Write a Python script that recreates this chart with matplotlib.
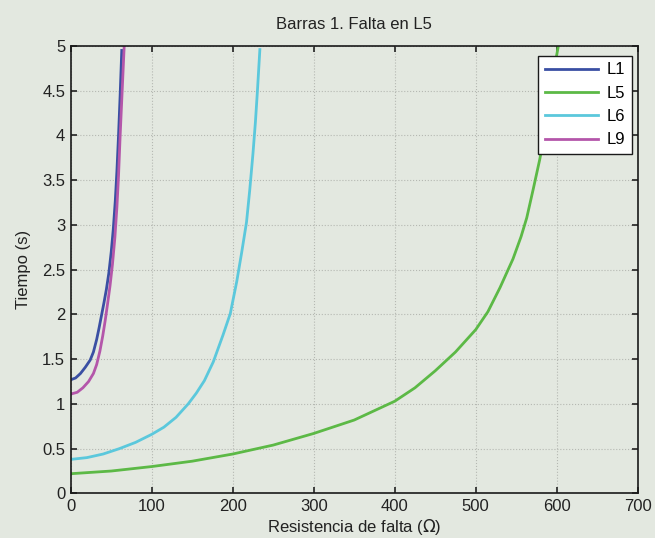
import matplotlib
matplotlib.use("Agg")
import matplotlib.pyplot as plt

# datos: resistencia de falta (Ohm) -> tiempo (s)
r_l1 = [0, 6, 12, 18, 24, 28, 32, 35, 38, 41, 44, 47, 50, 52.5, 55, 57, 59, 61, 63]
t_l1 = [1.27, 1.29, 1.34, 1.41, 1.49, 1.58, 1.72, 1.85, 1.99, 2.13, 2.28, 2.46, 2.7,
        2.95, 3.27, 3.6, 4.0, 4.45, 4.95]

r_l5 = [0, 50, 100, 150, 200, 250, 300, 350, 400, 425, 450, 475, 500, 515, 530, 546,
        556, 563, 571, 579, 587, 594, 599, 602]
t_l5 = [0.22, 0.25, 0.30, 0.36, 0.44, 0.54, 0.67, 0.82, 1.03, 1.18, 1.37, 1.58, 1.83,
        2.03, 2.3, 2.62, 2.87, 3.08, 3.4, 3.73, 4.12, 4.55, 4.85, 5.0]

r_l6 = [0, 20, 40, 60, 80, 100, 115, 130, 145, 155, 165, 176, 188, 197, 205, 211, 217,
        221, 225, 228, 230.5, 233.5]
t_l6 = [0.38, 0.40, 0.44, 0.50, 0.57, 0.66, 0.74, 0.85, 1.0, 1.12, 1.26, 1.47, 1.77,
        2.01, 2.37, 2.69, 3.03, 3.39, 3.8, 4.15, 4.5, 4.96]

r_l9 = [0, 8, 15, 22, 28, 32, 36, 39.5, 42.5, 45.5, 48.5, 51.5, 54.5, 57, 59, 61,
        63.5, 66]
t_l9 = [1.11, 1.13, 1.18, 1.25, 1.34, 1.44, 1.59, 1.76, 1.93, 2.12, 2.32, 2.56, 2.86,
        3.2, 3.55, 4.0, 4.5, 5.0]

nombres = ['L1', 'L5', 'L6', 'L9']
colores = ['#3a4fa3', '#5cb946', '#5bc8dc', '#b456aa']

plt.rcParams['font.family'] = ['Liberation Sans', 'DejaVu Sans']
bg = '#e3e8e0'
txt = '#222222'

fig = plt.figure(figsize=(6.55, 5.38), dpi=100, facecolor=bg)
ax = fig.add_axes([0.1080, 0.0829, 0.8656, 0.8316], facecolor=bg)

series = [(r_l1, t_l1), (r_l5, t_l5), (r_l6, t_l6), (r_l9, t_l9)]
for (r, t), nom, col in zip(series, nombres, colores):
    ax.plot(r, t, color=col, lw=2, label=nom)

ax.set_xlim(0, 700)
ax.set_ylim(0, 5)
ax.set_xticks(range(0, 701, 100))
ax.set_yticks([0, 0.5, 1, 1.5, 2, 2.5, 3, 3.5, 4, 4.5, 5])
ax.set_yticklabels(['0', '0.5', '1', '1.5', '2', '2.5', '3', '3.5', '4', '4.5', '5'])
ax.grid(True, color='#b5b8b2', linestyle=':', linewidth=0.8)
ax.tick_params(direction='in', top=True, right=True, length=4, width=1.2,
               labelsize=12, colors=txt, pad=4)
for s in ax.spines.values():
    s.set_color('#1a1a1a')
    s.set_linewidth(1.2)

ax.set_title('Barras 1. Falta en L5', fontsize=12, color=txt, pad=12)
ax.set_xlabel('Resistencia de falta ($\\Omega$)', fontsize=12, color=txt, labelpad=2)
ax.set_ylabel('Tiempo (s)', fontsize=12, color=txt, labelpad=8)

leg = ax.legend(loc='upper right', bbox_to_anchor=(0.9894, 0.9783), borderaxespad=0,
                fontsize=12, fancybox=False, framealpha=1, edgecolor='#1a1a1a',
                handlelength=3.2, labelspacing=0.5, handletextpad=0.5)
leg.get_frame().set_linewidth(1.0)

plt.savefig('out.png', dpi=100, facecolor=bg)
